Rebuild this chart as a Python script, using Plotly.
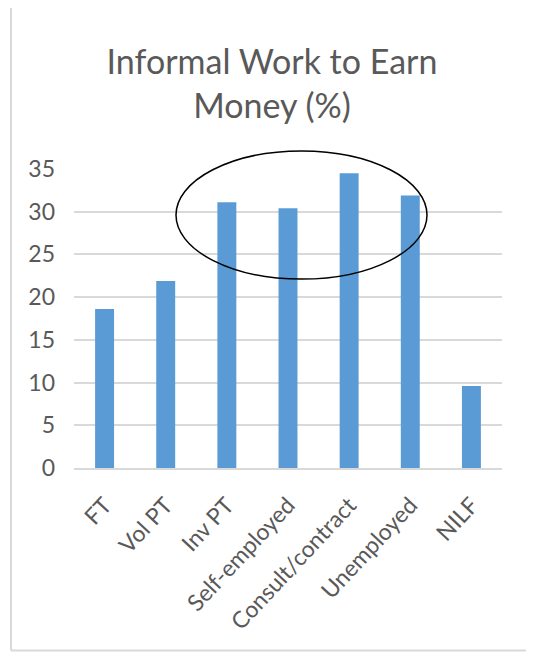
import plotly.graph_objects as go

categories = ["FT", "Vol PT", "Inv PT", "Self-employed", "Consult/contract", "Unemployed", "NILF"]
values = [18.6, 21.9, 31.1, 30.4, 34.5, 31.9, 9.6]
y_ticks = [0, 5, 10, 15, 20, 25, 30, 35]

# page body has an 8px margin; keep the figure inside the window
OFF = 8
W, H = 534 - 2 * OFF, 660 - 2 * OFF
plot_left, plot_right, plot_top, plot_bottom = 74, 502, 169, 467.7
ML = plot_left - OFF
MR = W - (plot_right - OFF)
MT = plot_top - OFF
MB = H - (plot_bottom - OFF)
pw = plot_right - plot_left
ph = plot_bottom - plot_top

def px_x(px):
    return (px - plot_left) / pw

def px_y(py):
    return (plot_bottom - py) / ph

fig = go.Figure(go.Bar(
    x=categories, y=values, marker_color="#5B9BD5", width=0.31,
    marker_line_width=0,
))

font_fam = "Lato, 'Open Sans', sans-serif"
fig.update_layout(
    width=W, height=H,
    margin=dict(l=ML, r=MR, t=MT, b=MB),
    paper_bgcolor="white", plot_bgcolor="white",
    showlegend=False,
    title=dict(text="Informal Work to Earn<br>Money (%)", x=(272 - OFF) / W, xanchor="center",
               y=1 - (84 - OFF - 10) / H, yanchor="middle",
               font=dict(family=font_fam, size=34, color="#595959")),
    font=dict(family=font_fam, color="#595959"),
)
fig.update_yaxes(range=[0, 35], tickvals=y_ticks, showgrid=True, gridcolor="#D9D9D9", gridwidth=1.5,
                 zeroline=False, showline=False, tickfont=dict(size=23, color="#595959"),
                 ticklabelstandoff=18, fixedrange=True)
fig.update_xaxes(showgrid=False, showline=True, linecolor="#D9D9D9", linewidth=1.5,
                 tickangle=-47, tickfont=dict(size=23, color="#595959"), ticklabelstandoff=13)

# ellipse annotation
fig.add_shape(type="circle", xref="paper", yref="paper",
              x0=px_x(176), x1=px_x(427), y0=px_y(279), y1=px_y(151),
              line=dict(color="black", width=1.5))
# chart border: left, top and bottom edges only
border = dict(color="#D9D9D9", width=2)
fig.add_shape(type="line", xref="paper", yref="paper", x0=px_x(11), x1=px_x(534),
              y0=px_y(5), y1=px_y(5), line=border, layer="below")
fig.add_shape(type="line", xref="paper", yref="paper", x0=px_x(11), x1=px_x(11),
              y0=px_y(5), y1=px_y(650), line=border, layer="below")
fig.add_shape(type="line", xref="paper", yref="paper", x0=px_x(11), x1=px_x(534),
              y0=px_y(650), y1=px_y(650), line=border, layer="below")

fig.write_html("out.html")
